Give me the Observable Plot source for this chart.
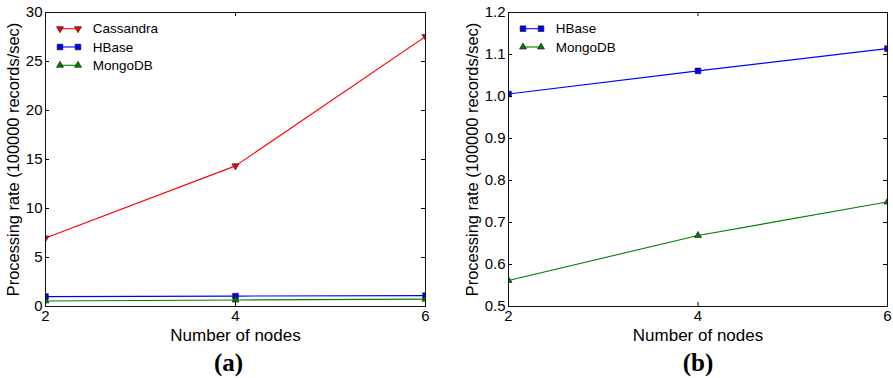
<!DOCTYPE html>
<html>
<head>
<meta charset="utf-8">
<script src="https://cdn.jsdelivr.net/npm/d3@7"></script>
<script src="https://cdn.jsdelivr.net/npm/@observablehq/plot@0.6"></script>
<style>
  body { margin: 0; background: white; }
  #wrap { display: flex; width: 893px; height: 378px; }
  .panel { position: relative; }
  .panel svg.legend { position: absolute; left: 0; top: 0; pointer-events: none; overflow: visible; }
</style>
</head>
<body>
<div id="wrap"></div>
<script>
// ---- data ----
const nodes = [2, 4, 6];
const cassandra = [7.0, 14.35, 27.55];
const hbase = [1.006, 1.061, 1.114];
const mongodb = [0.562, 0.669, 0.749];
const xTicks = [2, 4, 6];
const yTicksA = [0, 5, 10, 15, 20, 25, 30];
const yTicksB = [0.5, 0.6, 0.7, 0.8, 0.9, 1.0, 1.1, 1.2];
const xLabel = "Number of nodes";
const yLabel = "Processing rate (100000 records/sec)";

// ---- styles ----
const sqrt3 = Math.sqrt(3);
const triangleDown = {
  draw(context, size) {
    const y = -Math.sqrt(size / (sqrt3 * 3));
    context.moveTo(0, -y * 2);
    context.lineTo(-sqrt3 * y, y);
    context.lineTo(sqrt3 * y, y);
    context.closePath();
  }
};
const seriesStyle = {
  Cassandra: {color: "#ff0000", symbol: triangleDown, r: 2.6},
  HBase: {color: "#0000ff", symbol: "square", r: 3.2},
  MongoDB: {color: "#008000", symbol: "triangle", r: 2.6}
};
const font = "'Liberation Sans', Arial, Helvetica, sans-serif";

function rows(name, values) {
  return nodes.map((n, i) => ({series: name, nodes: n, value: values[i]}));
}

function panel({width, height, mt, mb, ml, mr, series, yDomain, yTicks, yFormat, tag, tagDx, yLabelDx}) {
  const plotW = width - ml - mr, plotH = height - mt - mb;
  const data = series.flatMap(([name, vals]) => rows(name, vals));
  const names = series.map(s => s[0]);
  const marks = [];
  for (const name of names) {
    const s = seriesStyle[name];
    const d = data.filter(r => r.series === name);
    marks.push(Plot.line(d, {x: "nodes", y: "value", stroke: s.color, strokeWidth: 1.1, clip: true}));
    marks.push(Plot.dot(d, {x: "nodes", y: "value", symbol: () => s.symbol, fill: s.color, stroke: "#111", strokeWidth: 0.6, r: s.r, clip: true}));
  }
  const chart = Plot.plot({
    width, height,
    marginTop: mt, marginBottom: mb, marginLeft: ml, marginRight: mr,
    style: {fontFamily: font, fontSize: "15px", color: "black", background: "white", overflow: "visible"},
    x: {domain: [2, 6]},
    y: {domain: yDomain},
    symbol: {type: "identity"},
    marks: [
      ...marks,
      // inward ticks on all four sides
      Plot.tickX(xTicks, {x: d => d, insetTop: plotH - 4, stroke: "black"}),
      Plot.tickX(xTicks, {x: d => d, insetBottom: plotH - 4, stroke: "black"}),
      Plot.tickY(yTicks, {y: d => d, insetRight: plotW - 4, stroke: "black"}),
      Plot.tickY(yTicks, {y: d => d, insetLeft: plotW - 4, stroke: "black"}),
      Plot.axisX({ticks: xTicks, tickSize: 0, tickPadding: 4, label: null, tickFormat: d3.format("d"), fontSize: 15}),
      Plot.axisY({ticks: yTicks, tickSize: 0, tickPadding: 3, label: null, tickFormat: yFormat, fontSize: 15}),
      Plot.frame({stroke: "#111", strokeWidth: 1}),
      Plot.text([xLabel], {text: d => d, frameAnchor: "bottom", dy: 29, lineAnchor: "middle", fontSize: 17}),
      Plot.text([yLabel], {text: d => d, frameAnchor: "left", dx: yLabelDx, rotate: -90, textAnchor: "middle", lineAnchor: "middle", fontSize: 16.4}),
      Plot.text([tag], {text: d => d, frameAnchor: "bottom", dy: 56, dx: tagDx, lineAnchor: "middle", fontSize: 25, fontWeight: "bold", fontFamily: "'Liberation Serif', 'Times New Roman', serif"})
    ]
  });

  const div = document.createElement("div");
  div.className = "panel";
  div.style.width = width + "px";
  div.style.height = height + "px";
  div.appendChild(chart);

  // legend (top-left inside frame)
  const leg = d3.create("svg").attr("class", "legend").attr("width", width).attr("height", height);
  names.forEach((name, i) => {
    const s = seriesStyle[name];
    const y = mt + 16.7 + i * 18.3;
    const x1 = ml + 15, x2 = ml + 33;
    leg.append("line").attr("x1", x1).attr("x2", x2).attr("y1", y).attr("y2", y)
      .attr("stroke", s.color).attr("stroke-width", 1.1);
    const sym = typeof s.symbol === "string" ? (s.symbol === "square" ? d3.symbolSquare : d3.symbolTriangle) : s.symbol;
    const path = d3.symbol(sym, Math.PI * s.r * s.r)();
    for (const x of [x1, x2]) {
      leg.append("path").attr("d", path).attr("transform", `translate(${x},${y})`)
        .attr("fill", s.color).attr("stroke", "#111").attr("stroke-width", 0.6);
    }
    leg.append("text").attr("x", ml + 47.7).attr("y", y).attr("dy", "0.35em")
      .attr("font-family", font).attr("font-size", 13.5).attr("fill", "black").text(name);
  });
  div.appendChild(leg.node());
  return div;
}

const wrap = document.getElementById("wrap");
wrap.appendChild(panel({
  width: 450, height: 378, mt: 12, mb: 72, ml: 45, mr: 25,
  series: [["Cassandra", cassandra], ["HBase", hbase], ["MongoDB", mongodb]],
  yDomain: [0, 30], yTicks: yTicksA, yFormat: d3.format("d"), tag: "(a)", tagDx: -7, yLabelDx: -32
}));
wrap.appendChild(panel({
  width: 443, height: 378, mt: 12, mb: 72, ml: 58, mr: 6,
  series: [["HBase", hbase], ["MongoDB", mongodb]],
  yDomain: [0.5, 1.2], yTicks: yTicksB, yFormat: d3.format(".1f"), tag: "(b)", tagDx: 0, yLabelDx: -36
}));
</script>
</body>
</html>
